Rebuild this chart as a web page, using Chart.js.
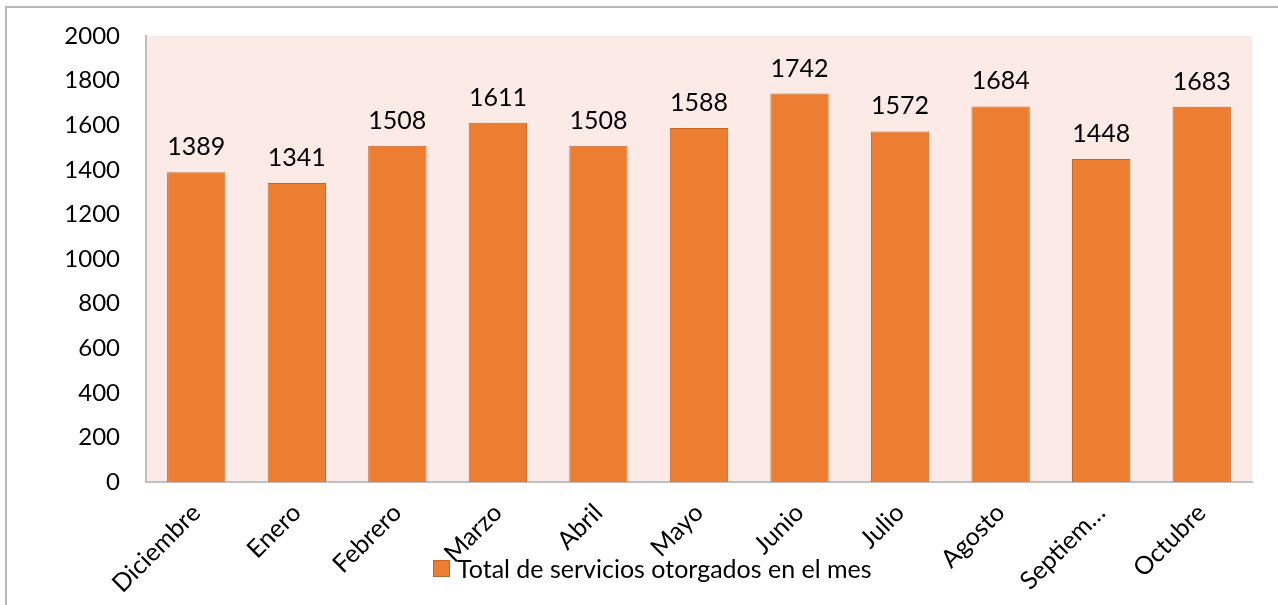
<!DOCTYPE html>
<html><head><meta charset="utf-8">
<script src="https://cdn.jsdelivr.net/npm/chart.js"></script>
<style>
html,body{margin:0;padding:0;width:1278px;height:605px;overflow:hidden;background:#fff;}
#wrap{position:relative;width:1278px;height:605px;}
#frame{position:absolute;left:5px;top:6px;width:1300px;height:700px;border:2px solid #B8B8B8;box-sizing:border-box;}
canvas{position:absolute;left:0;top:0;}
#legend{position:absolute;left:433px;top:553px;font-family:Lato, sans-serif;font-size:25px;color:#000;display:flex;align-items:center;white-space:nowrap;}
#legend .box{display:inline-block;width:15px;height:15px;background:#ED7D31;border:1px solid #C0672B;margin-right:7px;}
</style></head>
<body><div id="wrap"><div id="frame"></div><canvas id="c" width="1278" height="605"></canvas><div id="legend"><span class="box"></span><span id="legtext"></span></div></div>
<script>
const categories = ['Diciembre','Enero','Febrero','Marzo','Abril','Mayo','Junio','Julio','Agosto','Septiembre','Octubre'];
const seriesName = 'Total de servicios otorgados en el mes';
const values = [1389,1341,1508,1611,1508,1588,1742,1572,1684,1448,1683];
const yMin = 0, yMax = 2000, yStep = 200;

document.getElementById('legtext').textContent = seriesName;

const FONT = 'Lato, sans-serif';

const plotBg = {
  id: 'plotBg',
  beforeDraw(chart) {
    const {ctx, chartArea: a} = chart;
    ctx.save();
    ctx.fillStyle = '#FBEAE5';
    ctx.fillRect(a.left, a.top, a.right - a.left, a.bottom - a.top);
    ctx.restore();
  }
};
const dataLabels = {
  id: 'dataLabels',
  afterDatasetsDraw(chart) {
    const {ctx} = chart;
    const meta = chart.getDatasetMeta(0);
    ctx.save();
    ctx.font = '25px ' + FONT;
    ctx.fillStyle = '#000';
    ctx.textAlign = 'center';
    ctx.textBaseline = 'alphabetic';
    meta.data.forEach((bar, i) => {
      ctx.fillText(String(chart.data.datasets[0].data[i]), bar.x, bar.y - 17);
    });
    ctx.restore();
  }
};

new Chart(document.getElementById('c'), {
  type: 'bar',
  data: {
    labels: categories,
    datasets: [{
      label: seriesName,
      data: values,
      backgroundColor: '#ED7D31',
      borderColor: '#C0672B',
      borderWidth: 1,
      barPercentage: 0.58,
      categoryPercentage: 1.0
    }]
  },
  options: {
    responsive: false,
    animation: false,
    devicePixelRatio: 1,
    layout: {padding: {left: 0, top: 36, right: 26, bottom: 0}},
    plugins: {legend: {display: false}, tooltip: {enabled: false}},
    scales: {
      x: {
        grid: {display: false, drawTicks: false},
        border: {display: true, color: '#BFBFBF', width: 2},
        afterFit(s) { s.height = 123; s.paddingLeft = 0; s.paddingRight = 0; },
        ticks: {
          autoSkip: false, maxRotation: 45, minRotation: 45, padding: 16,
          color: '#000', font: {family: FONT, size: 25},
          callback(v) { const l = this.getLabelForValue(v); return l.length > 9 ? l.slice(0, 7) + '…' : l; }
        }
      },
      y: {
        min: yMin, max: yMax,
        grid: {display: false, drawTicks: false},
        border: {display: true, color: '#BFBFBF', width: 2},
        afterFit(s) { s.width = 146; s.paddingTop = 0; s.paddingBottom = 0; },
        ticks: {stepSize: yStep, padding: 26, color: '#000', font: {family: FONT, size: 24},
          callback(v) { return String(v); }}
      }
    }
  },
  plugins: [plotBg, dataLabels]
});
</script>
</body></html>
